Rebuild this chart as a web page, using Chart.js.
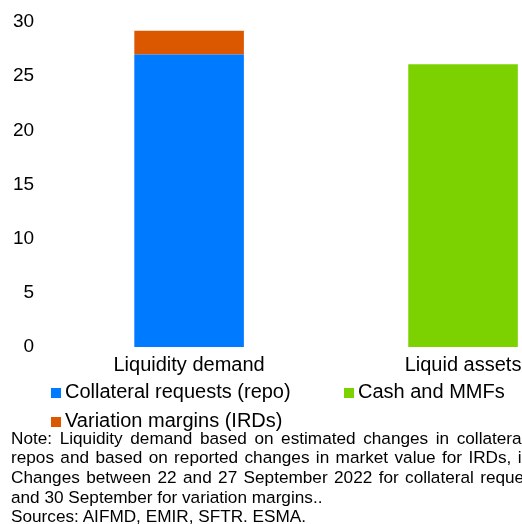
<!DOCTYPE html>
<html lang="en">
<head>
    <meta charset="UTF-8">
    <title>Liquidity demand vs liquid assets</title>
    <script src="https://cdn.jsdelivr.net/npm/chart.js"></script>
    <style>
        body {
            margin: 0;
            overflow: hidden;
            background: #fff;
            font-family: "Liberation Sans", Arial, sans-serif;
            color: #000;
        }
        .wrap {
            position: relative;
            width: 700px;
            height: 524px;
        }
        .chart-box {
            position: absolute;
            left: -5px;
            top: 0;
            width: 625px;
            height: 383px;
        }
        .legend {
            position: absolute;
            left: 51px;
            top: 377px;
            display: grid;
            grid-template-columns: 293px 293px;
            font-size: 20px;
            line-height: 29px;
        }
        .legend span.box {
            display: inline-block;
            width: 10px;
            height: 10px;
            margin-right: 4px;
        }
        .note {
            position: absolute;
            left: 11px;
            top: 428.5px;
            font-size: 17.2px;
            line-height: 19.7px;
        }
        .note div {
            white-space: nowrap;
        }
        /* the original note is justified, the spacing is copied per line */
        .note .l1 { word-spacing: 2.8px; }
        .note .l2 { word-spacing: 1.6px; }
        .note .l3 { word-spacing: 1.6px; }
    </style>
</head>
<body>
    <div class="wrap">
        <div class="chart-box"><canvas id="chart"></canvas></div>
        <div class="legend" id="legend"></div>
        <div class="note">
            <div class="l1">Note: Liquidity demand based on estimated changes in collateral requests for</div>
            <div class="l2">repos and based on reported changes in market value for IRDs, in EUR bn.</div>
            <div class="l3">Changes between 22 and 27 September 2022 for collateral requests and between 22</div>
            <div>and 30 September for variation margins..</div>
            <div>Sources: AIFMD, EMIR, SFTR. ESMA.</div>
        </div>
    </div>

    <script>
        // EUR bn
        const categories = ['Liquidity demand', 'Liquid assets'];
        const repoRequests = [27.0, null];
        const variationMargins = [2.2, null];
        const cashAndMmfs = [null, 26.1];
        const yTicks = [0, 5, 10, 15, 20, 25, 30];

        const colors = {
            repo: '#007bff',
            irds: '#db5800',
            cash: '#7bd200'
        };

        const datasets = [
            { label: 'Collateral requests (repo)', data: repoRequests, backgroundColor: colors.repo },
            { label: 'Variation margins (IRDs)', data: variationMargins, backgroundColor: colors.irds },
            { label: 'Cash and MMFs', data: cashAndMmfs, backgroundColor: colors.cash }
        ];

        const chart = new Chart(document.getElementById('chart'), {
            type: 'bar',
            data: {
                labels: categories,
                datasets: datasets.map(d => ({
                    ...d,
                    categoryPercentage: 0.4,
                    barPercentage: 1,
                    borderWidth: 0
                }))
            },
            options: {
                responsive: true,
                maintainAspectRatio: false,
                animation: false,
                layout: { padding: { left: 0, right: 20, top: 22, bottom: 0 } },
                plugins: {
                    legend: { display: false },
                    tooltip: { enabled: false }
                },
                scales: {
                    x: {
                        stacked: true,
                        grid: { display: false, drawTicks: false },
                        border: { display: false },
                        ticks: {
                            color: '#000',
                            padding: 6,
                            font: { family: 'Liberation Sans', size: 20 }
                        }
                    },
                    y: {
                        stacked: true,
                        min: yTicks[0],
                        max: yTicks[yTicks.length - 1],
                        afterBuildTicks: axis => { axis.ticks = yTicks.map(v => ({ value: v })); },
                        // tick padding would otherwise push the plot down too
                        afterFit: axis => { axis.paddingTop = 0; axis.paddingBottom = 0; },
                        grid: { display: false, drawTicks: false },
                        border: { display: false },
                        ticks: {
                            color: '#000',
                            padding: 18,
                            font: { family: 'Liberation Sans', size: 19 }
                        }
                    }
                }
            }
        });

        // legend in two columns like the original
        const legendEl = document.getElementById('legend');
        const legendOrder = [0, 2, 1];
        legendOrder.forEach(i => {
            const item = document.createElement('div');
            item.innerHTML = `<span class="box" style="background:${datasets[i].backgroundColor}"></span>${datasets[i].label}`;
            legendEl.appendChild(item);
        });
    </script>
</body>
</html>
